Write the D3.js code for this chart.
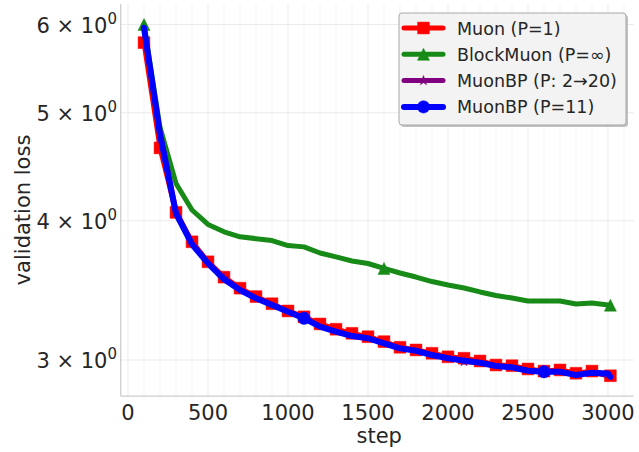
<!DOCTYPE html>
<html>
<head>
<meta charset="utf-8">
<script src="https://cdn.jsdelivr.net/npm/d3@7/dist/d3.min.js"></script>
<style>
  body { margin: 0; background: #fff; }
  text { font-family: "DejaVu Sans", sans-serif; fill: #262626; }
</style>
</head>
<body>
<div id="chart"></div>
<script>
const steps = [100, 200, 300, 400, 500, 600, 700, 800, 900, 1000, 1100, 1200, 1300, 1400, 1500,
  1600, 1700, 1800, 1900, 2000, 2100, 2200, 2300, 2400, 2500, 2600, 2700, 2800, 2900, 3015]
const blueSteps = [100, 200, 300, 400, 500, 600, 700, 800, 900, 1000, 1100, 1200, 1300, 1400, 1500,
  1600, 1700, 1800, 1900, 2000, 2100, 2200, 2300, 2400, 2500, 2600, 2700, 2800, 2900, 3000, 3015]

const muon = [5.78, 4.65, 4.07, 3.83, 3.675, 3.56, 3.48, 3.42, 3.37, 3.32, 3.28, 3.232, 3.197, 3.17, 3.148,
  3.116, 3.08, 3.063, 3.042, 3.02, 3.011, 2.994, 2.969, 2.965, 2.945, 2.932, 2.939, 2.919, 2.932, 2.904]
const blockMuon = [6.0, 4.85, 4.32, 4.09, 3.97, 3.91, 3.87, 3.855, 3.84, 3.80, 3.79, 3.742, 3.712, 3.681, 3.662,
  3.625, 3.591, 3.561, 3.528, 3.503, 3.481, 3.453, 3.428, 3.41, 3.389, 3.389, 3.389, 3.368, 3.375, 3.36]
const muonBPsched = [5.95, 4.80, 4.08, 3.82, 3.67, 3.554, 3.47, 3.41, 3.365, 3.318, 3.272, 3.216, 3.183, 3.155, 3.14,
  3.107, 3.075, 3.06, 3.033, 3.013, 2.99, 2.985, 2.965, 2.957, 2.936, 2.93, 2.93, 2.91, 2.924, 2.9]
const muonBP11 = [5.96, 4.78, 4.06, 3.81, 3.663, 3.544, 3.467, 3.408, 3.361, 3.315, 3.27, 3.214, 3.181, 3.152, 3.138,
  3.105, 3.073, 3.058, 3.031, 3.011, 2.996, 2.983, 2.963, 2.955, 2.934, 2.928, 2.928, 2.908, 2.922, 2.918, 2.897]

const xTicks = [0, 500, 1000, 1500, 2000, 2500, 3000]
const xGrid = d3.range(0, 3101, 100)
const yTicks = [3, 4, 5, 6]

const width = 639, height = 452
const pLeft = 120.7, pRight = 633.7, pTop = 4, pBottom = 396

const x = d3.scaleLinear().domain([-45.75, 3160.75]).range([pLeft, pRight])
const y = d3.scaleLog().domain([2.785, 6.26]).range([pBottom, pTop])

const svg = d3.select("#chart").append("svg")
  .attr("width", width).attr("height", height)

// grid
svg.append("g").selectAll("line").data(xGrid).enter().append("line")
  .attr("x1", d => x(d)).attr("x2", d => x(d))
  .attr("y1", pTop).attr("y2", pBottom)
  .style("stroke", d => d % 500 === 0 ? "#ebebeb" : "#f3f3f3")
  .style("stroke-width", 1)
svg.append("g").selectAll("line").data(yTicks).enter().append("line")
  .attr("x1", pLeft).attr("x2", pRight)
  .attr("y1", d => y(d)).attr("y2", d => y(d))
  .style("stroke", "#ebebeb")
  .style("stroke-width", 1)

// spines
svg.append("line").attr("x1", pLeft).attr("x2", pLeft).attr("y1", pTop).attr("y2", pBottom)
  .style("stroke", "#cccccc").style("stroke-width", 1.25)
svg.append("line").attr("x1", pLeft).attr("x2", pRight).attr("y1", pBottom).attr("y2", pBottom)
  .style("stroke", "#cccccc").style("stroke-width", 1.25)

// tick labels
svg.append("g").selectAll("text").data(xTicks).enter().append("text")
  .attr("x", d => x(d)).attr("y", 420)
  .attr("text-anchor", "middle")
  .style("font-size", "21px")
  .text(d => d)

const yLab = svg.append("g").selectAll("text").data(yTicks).enter().append("text")
  .attr("x", 117).attr("y", d => y(d) + 8)
  .attr("text-anchor", "end")
  .style("font-size", "21px")
yLab.append("tspan").text(d => d + " \u00d7 10")
yLab.append("tspan").attr("dy", -9).style("font-size", "15px").text("0")

svg.append("text").attr("x", (pLeft + pRight) / 2 + 2).attr("y", 443)
  .attr("text-anchor", "middle").style("font-size", "21px").text("step")
svg.append("text").attr("transform", "translate(30,210) rotate(-90)")
  .attr("text-anchor", "middle").style("font-size", "21px").text("validation loss")

// markers
const sq = d3.symbol().type(d3.symbolSquare).size(140)
const circ = d3.symbol().type(d3.symbolCircle).size(120)
const star = d3.symbol().type(d3.symbolStar).size(30)
const tri = "M0,-6L-6,6L6,6Z"

const series = [
  { name: "Muon (P=1)", steps: steps, vals: muon, color: "#ff0000", lw: 5, marker: sq, every: steps.map((d, i) => i) },
  { name: "BlockMuon (P=\u221e)", steps: steps, vals: blockMuon, color: "#178a17", lw: 5, marker: tri, every: [0, 15, 29] },
  { name: "MuonBP (P: 2\u219220)", steps: steps, vals: muonBPsched, color: "#800080", lw: 5, marker: star, every: [5, 20] },
  { name: "MuonBP (P=11)", steps: blueSteps, vals: muonBP11, color: "#0000ff", lw: 6, marker: circ, every: [10, 25] }
]

const line = d3.line().x(d => x(d[0])).y(d => y(d[1]))

const plot = svg.append("g")
series.forEach(s => {
  const pts = s.steps.map((st, i) => [st, s.vals[i]])
  plot.append("path").datum(pts)
    .attr("d", line)
    .style("fill", "none")
    .style("stroke", s.color)
    .style("stroke-width", s.lw)
    .style("stroke-linejoin", "round")
    .style("stroke-linecap", "round")
  plot.append("g").selectAll("path").data(s.every.map(i => pts[i])).enter().append("path")
    .attr("d", typeof s.marker === "string" ? s.marker : s.marker())
    .attr("transform", d => `translate(${x(d[0])},${y(d[1])})`)
    .style("fill", s.color)
    .style("stroke", s.color)
    .style("stroke-width", 0.5)
})

// legend
const lg = svg.append("g")
lg.append("rect").attr("x", 401).attr("y", 15).attr("width", 227).attr("height", 112).attr("rx", 3)
  .style("fill", "#9a9a9a").style("opacity", 0.6)
lg.append("rect").attr("x", 399).attr("y", 13).attr("width", 227).attr("height", 112).attr("rx", 3)
  .style("fill", "#f3f3f3").style("stroke", "#a8a8a8").style("stroke-width", 1)

const rows = lg.selectAll(".row").data(series).enter().append("g")
  .attr("class", "row")
  .attr("transform", (d, i) => `translate(0,${28 + i * 26.3})`)
rows.append("line").attr("x1", 404).attr("x2", 443).attr("y1", 0).attr("y2", 0)
  .style("stroke", d => d.color).style("stroke-width", d => d.lw).style("stroke-linecap", "round")
rows.append("path")
  .attr("d", d => typeof d.marker === "string" ? d.marker : d.marker())
  .attr("transform", "translate(423.5,0)")
  .style("fill", d => d.color).style("stroke", d => d.color).style("stroke-width", 0.5)
rows.append("text").attr("x", 457).attr("y", 6.5)
  .style("font-size", "17.5px")
  .text(d => d.name)
</script>
</body>
</html>
